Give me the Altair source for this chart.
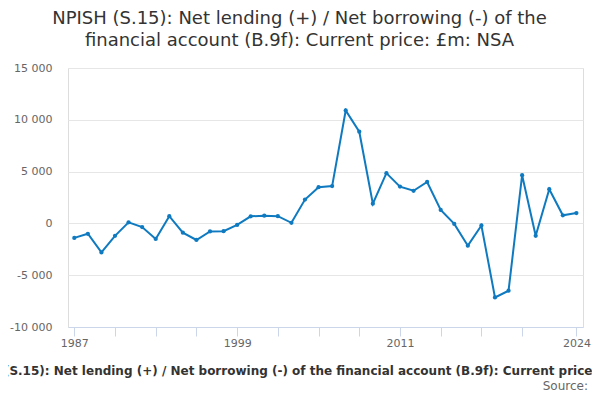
import altair as alt
import pandas as pd

years = list(range(1987, 2025))
values = [-1400, -1000, -2800, -1200, 100, -350, -1500, 700, -900, -1600,
          -780, -750, -150, 680, 740, 700, 60, 2300, 3500, 3600,
          10900, 8850, 1900, 4850, 3550, 3150, 4000, 1300, -50, -2150,
          -200, -7150, -6500, 4650, -1200, 3300, 780, 1000]

x_ticks = [1987, 1990, 1993, 1996, 1999, 2002, 2005, 2008, 2011, 2014, 2017, 2020, 2024]
x_labels = [1987, 1999, 2011, 2024]
y_ticks = [-10000, -5000, 0, 5000, 10000, 15000]

title_lines = ["NPISH (S.15): Net lending (+) / Net borrowing (-) of the",
               "financial account (B.9f): Current price: £m: NSA"]
series_name = "NPISH (S.15): Net lending (+) / Net borrowing (-) of the financial account (B.9f): Current price: £m: NSA"

df = pd.DataFrame({"year": years, "value": values})

FONT = "DejaVu Sans"
label_cond = " || ".join(f"datum.value == {v}" for v in x_labels)

line = alt.Chart(df).mark_line(
    color="#0f7ac0", strokeWidth=2,
    point=alt.OverlayMarkDef(filled=True, size=18, color="#0f7ac0")
).encode(
    x=alt.X("year:Q",
            scale=alt.Scale(domain=[1986.536, 2024.486], nice=False, zero=False),
            axis=alt.Axis(values=x_ticks, grid=False, format="d",
                          labelExpr=f"({label_cond}) ? toString(datum.value) : ''",
                          domainColor="#ccd6eb", tickColor="#ccd6eb", tickSize=9,
                          labelPadding=1, labelFont=FONT, labelFontSize=11,
                          labelColor="#666666", labelFlush=False,
                          title=series_name, titleFont=FONT, titleFontSize=12,
                          titleFontWeight="bold", titleColor="#333333",
                          titleX=240, titleY=47, titleAlign="center",
                          titleBaseline="alphabetic", titleLimit=3000)),
    y=alt.Y("value:Q",
            scale=alt.Scale(domain=[-10000, 15000], nice=False, zero=False),
            axis=alt.Axis(values=y_ticks, ticks=False, domain=False,
                          gridColor="#e6e6e6", gridWidth=1,
                          labelPadding=16, labelFont=FONT, labelFontSize=11,
                          labelColor="#666666",
                          labelExpr="(datum.value < 0 ? '-' : '') + replace(format(abs(datum.value), ','), ',', ' ')",
                          title=None)),
)

source = alt.Chart(pd.DataFrame({"t": ["Source:"]})).mark_text(
    align="right", baseline="alphabetic", font=FONT, fontSize=12, color="#666666"
).encode(text="t:N", x=alt.value(520), y=alt.value(322))

chart = alt.layer(line, source).properties(
    width=515, height=259,
    autosize=alt.AutoSizeParams(type="none"),
    padding={"left": 60, "top": 60, "right": 9, "bottom": 65},
    title=alt.TitleParams(text=title_lines, font=FONT, fontSize=18,
                          fontWeight="normal", color="#333333", anchor="middle",
                          baseline="bottom", offset=12, dy=18, dx=-26,
                          lineHeight=22)
).configure_view(stroke=None).configure(background="white")

chart.save("out.html", embed_options={"renderer": "svg", "actions": False})
